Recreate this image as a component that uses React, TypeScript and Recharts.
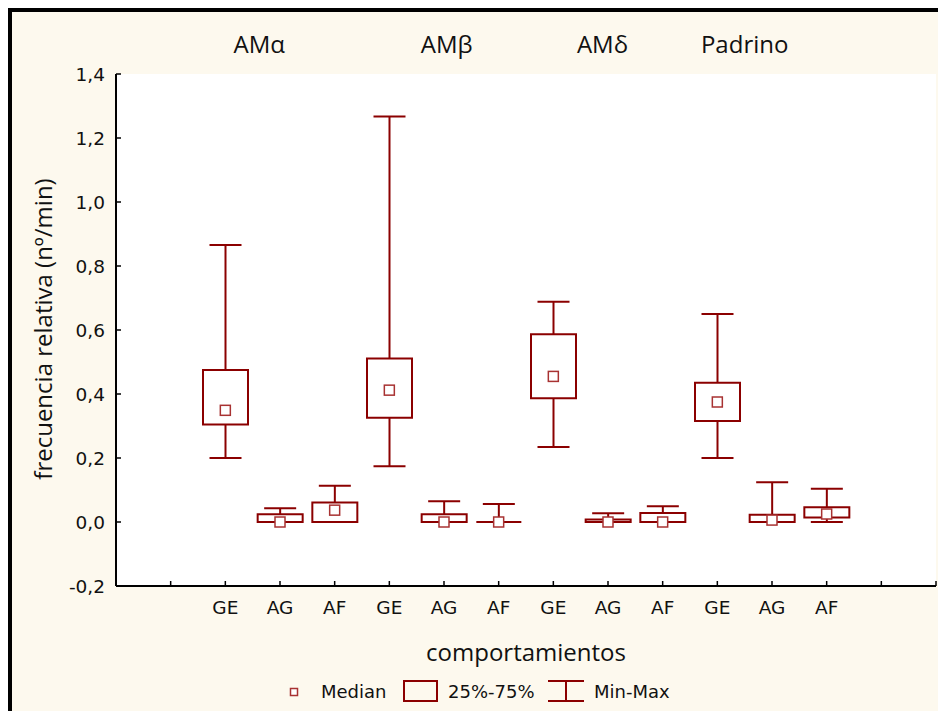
import React from 'react';
import { ComposedChart, Bar, Scatter, XAxis, YAxis, CartesianGrid } from 'recharts';

// ---- data ----
const behaviours = ['GE', 'AG', 'AF', 'GE', 'AG', 'AF', 'GE', 'AG', 'AF', 'GE', 'AG', 'AF'];
const positions = [2, 3, 4, 5, 6, 7, 8, 9, 10, 11, 12, 13];
const groups = ['AMα', 'AMβ', 'AMδ', 'Padrino'];
const groupLabelPos = [2.62, 6.05, 8.9, 11.5];
const minVals = [0.2, 0, 0, 0.174, 0, 0, 0.234, 0, 0, 0.2, 0, 0];
const q1Vals = [0.305, 0, 0, 0.326, 0, 0, 0.387, 0, 0, 0.316, 0, 0.014];
const medianVals = [0.349, 0, 0.037, 0.412, 0, 0, 0.455, 0, 0, 0.375, 0.006, 0.025];
const q3Vals = [0.475, 0.024, 0.061, 0.511, 0.024, 0, 0.587, 0.008, 0.028, 0.435, 0.023, 0.046];
const maxVals = [0.866, 0.043, 0.113, 1.267, 0.065, 0.056, 0.688, 0.027, 0.049, 0.65, 0.124, 0.104];
const yTicks = [-0.2, 0, 0.2, 0.4, 0.6, 0.8, 1.0, 1.2, 1.4];
const xTicks = [0, 1, 2, 3, 4, 5, 6, 7, 8, 9, 10, 11, 12, 13, 14, 15];

const data = positions.map((x, i) => ({
  x,
  name: behaviours[i],
  base: minVals[i],
  lower: q1Vals[i] - minVals[i],
  box: q3Vals[i] - q1Vals[i],
  upper: maxVals[i] - q3Vals[i],
  median: medianVals[i],
}));

const RED = '#8B0000';
const MED = '#A83232';
const TICK_FONT = '"DejaVu Sans", sans-serif';
const TITLE_FONT = '"Open Sans", sans-serif';

const norm = (p: any) => {
  const y1 = Math.min(p.y, p.y + p.height);
  const y2 = Math.max(p.y, p.y + p.height);
  return { cx: p.x + p.width / 2, y1, y2, x: p.x, w: p.width };
};

const LowerWhisker = (p: any) => {
  const { cx, y1, y2 } = norm(p);
  return (
    <g>
      <line x1={cx} x2={cx} y1={y1} y2={y2} stroke={RED} strokeWidth={2} />
      <line x1={cx - 16} x2={cx + 16} y1={y2} y2={y2} stroke={RED} strokeWidth={2} />
    </g>
  );
};

const UpperWhisker = (p: any) => {
  const { cx, y1, y2 } = norm(p);
  return (
    <g>
      <line x1={cx} x2={cx} y1={y1} y2={y2} stroke={RED} strokeWidth={2} />
      <line x1={cx - 16} x2={cx + 16} y1={y1} y2={y1} stroke={RED} strokeWidth={2} />
    </g>
  );
};

const BoxShape = (p: any) => {
  const { x, w, y1, y2 } = norm(p);
  return (
    <path
      d={`M${x},${y1} L${x + w},${y1} L${x + w},${y2} L${x},${y2} Z`}
      fill="#fff"
      stroke={RED}
      strokeWidth={2}
    />
  );
};

const MedianShape = (p: any) => {
  const { cx, cy } = p;
  return <rect x={cx - 5} y={cy - 5} width={10} height={10} fill="#fff" stroke={MED} strokeWidth={1.5} />;
};

const XTick = (p: any) => {
  const { x, y, payload } = p;
  const idx = positions.indexOf(payload.value);
  const label = idx >= 0 ? behaviours[idx] : '';
  return (
    <g>
      <line x1={x} x2={x} y1={y} y2={y - 5} stroke="#000" strokeWidth={1.5} />
      <text x={x} y={y + 28} textAnchor="middle" fontFamily={TICK_FONT} fontSize={18.5} fill="#111">
        {label}
      </text>
    </g>
  );
};

const YTick = (p: any) => {
  const { x, y, payload } = p;
  const label = payload.value.toFixed(1).replace('.', ',');
  return (
    <g>
      <line x1={x} x2={x + 5} y1={y} y2={y} stroke="#000" strokeWidth={1.5} />
      <text x={x - 11} y={y + 6.5} textAnchor="end" fontFamily={TICK_FONT} fontSize={18.5} fill="#111">
        {label}
      </text>
    </g>
  );
};

const TopTick = (p: any) => {
  const { x, y, payload } = p;
  const idx = groupLabelPos.indexOf(payload.value);
  return (
    <text x={x} y={y - 21} textAnchor="middle" fontFamily={TITLE_FONT} fontSize={24} fill="#111">
      {idx >= 0 ? groups[idx] : ''}
    </text>
  );
};

export default function App() {
  return (
    <div style={{ position: 'absolute', left: 0, top: 0, width: 938, height: 711, background: '#fff', overflow: 'hidden' }}>
      <div style={{ position: 'absolute', left: 8, top: 8, width: 930, height: 703, background: '#000' }} />
      <div style={{ position: 'absolute', left: 12, top: 12, width: 926, height: 699, background: '#FDF9EE' }} />
      <div style={{ position: 'absolute', left: 0, top: 0 }}>
        <ComposedChart
          width={938}
          height={711}
          data={data}
          margin={{ top: 34, right: 2, bottom: 95, left: 56 }}
        >
          <CartesianGrid fill="#fff" horizontal={false} vertical={false} />
          <XAxis
            xAxisId="top"
            orientation="top"
            type="number"
            dataKey="x"
            domain={[0, 15]}
            ticks={groupLabelPos}
            height={40}
            axisLine={false}
            tickLine={false}
            tickSize={0}
            tickMargin={0}
            tick={<TopTick />}
            interval={0}
          />
          <XAxis
            type="number"
            dataKey="x"
            domain={[0, 15]}
            ticks={xTicks}
            height={30}
            axisLine={{ stroke: '#000', strokeWidth: 2 }}
            tickLine={false}
            tickSize={0}
            tickMargin={0}
            tick={<XTick />}
            interval={0}
          />
          <YAxis
            type="number"
            domain={[-0.2, 1.4]}
            ticks={yTicks}
            width={60}
            allowDataOverflow
            axisLine={{ stroke: '#000', strokeWidth: 2 }}
            tickLine={false}
            tickSize={0}
            tickMargin={0}
            tick={<YTick />}
            interval={0}
          />
          <Bar dataKey="base" stackId="s" fill="none" barSize={45} isAnimationActive={false} />
          <Bar dataKey="lower" stackId="s" barSize={45} shape={<LowerWhisker />} isAnimationActive={false} />
          <Bar dataKey="box" stackId="s" barSize={45} shape={<BoxShape />} isAnimationActive={false} />
          <Bar dataKey="upper" stackId="s" barSize={45} shape={<UpperWhisker />} isAnimationActive={false} />
          <Scatter dataKey="median" shape={<MedianShape />} isAnimationActive={false} />
        </ComposedChart>
      </div>
      <svg width={938} height={711} style={{ position: 'absolute', left: 0, top: 0, pointerEvents: 'none' }}>
        <text
          transform="translate(52,329) rotate(-90)"
          textAnchor="middle"
          fontFamily={TITLE_FONT}
          fontSize={24}
          fill="#111"
        >
          frecuencia relativa (nº/min)
        </text>
        <text x={526} y={661} textAnchor="middle" fontFamily={TITLE_FONT} fontSize={24} fill="#111">
          comportamientos
        </text>
        <g fontFamily={TICK_FONT} fontSize={18} fill="#111">
          <rect x={290.5} y={688.5} width={7} height={7} fill="#fff" stroke={MED} strokeWidth={1.5} />
          <text x={321} y={698}>Median</text>
          <rect x={404} y={681} width={33} height={20} fill="none" stroke={RED} strokeWidth={2} />
          <text x={448} y={698}>25%-75%</text>
          <line x1={548} x2={584} y1={681} y2={681} stroke={RED} strokeWidth={2} />
          <line x1={548} x2={584} y1={701} y2={701} stroke={RED} strokeWidth={2} />
          <line x1={566} x2={566} y1={681} y2={701} stroke={RED} strokeWidth={2} />
          <text x={594} y={698}>Min-Max</text>
        </g>
      </svg>
    </div>
  );
}
